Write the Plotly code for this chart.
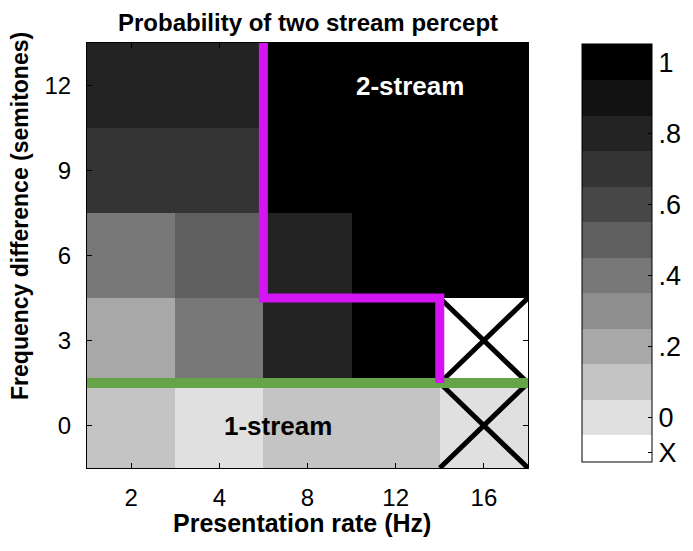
import plotly.graph_objects as go

rates = ['2', '4', '8', '12', '16']          # Hz
semitones = [0, 3, 6, 9, 12]

# probability of two stream percept, one row per semitone step, one column per rate
# None = condition not tested (drawn white, "X" level of the colorbar)
prob = [
    [0.1, 0.0, 0.1, 0.1, 0.0],
    [0.2, 0.4, 0.8, 1.0, None],
    [0.4, 0.5, 0.8, 1.0, 1.0],
    [0.7, 0.7, 1.0, 1.0, 1.0],
    [0.8, 0.8, 1.0, 1.0, 1.0],
]
crossed = [(4, 0), (4, 3)]   # (rate index, semitones) cells with an X over them

x_value = -0.1
level_values = [-0.1, 0.0, 0.1, 0.2, 0.3, 0.4, 0.5, 0.6, 0.7, 0.8, 0.9, 1.0]
level_colors = ['#ffffff', '#e0e0e0', '#c4c4c4', '#a8a8a8', '#8e8e8e', '#787878',
                '#5f5f5f', '#474747', '#343434', '#232323', '#121212', '#000000']
cbar_vals = [-0.1, 0.0, 0.2, 0.4, 0.6, 0.8, 1.0]
cbar_text = ['X', '0', '.2', '.4', '.6', '.8', '1']

# boundaries drawn on the map
two_stream_x = [1.5, 1.5, 3.5, 3.5]
two_stream_y = [13.5, 4.5, 4.5, 1.5]
one_stream_y = 1.5

zmin, zmax = -0.126, 1.052

# stepped colorscale, one band per level
edges = [zmin] + [v + 0.05 for v in level_values[:-1]] + [zmax]
cscale = []
for i, col in enumerate(level_colors):
    lo = (edges[i] - zmin) / (zmax - zmin)
    hi = (edges[i + 1] - zmin) / (zmax - zmin)
    cscale.append([lo, col])
    cscale.append([hi, col])
cscale[0][0] = 0.0
cscale[-1][0] = 1.0

z = [[x_value if v is None else v for v in row] for row in prob]
xs = list(range(len(rates)))
dx = 0.5
dy = (semitones[1] - semitones[0]) / 2

font = 'Liberation Sans, Arial, sans-serif'

fig = go.Figure()
fig.add_trace(go.Heatmap(
    x=xs, y=semitones, z=z,
    zmin=zmin, zmax=zmax, colorscale=cscale,
    hoverinfo='skip',
    colorbar=dict(
        x=1.122, xanchor='left', y=0.014, yanchor='bottom',
        lenmode='pixels', len=418, thickness=70,
        outlinecolor='black', outlinewidth=1,
        tickmode='array', tickvals=cbar_vals, ticktext=cbar_text,
        ticks='inside', ticklen=4, tickcolor='black',
        tickfont=dict(family=font, size=27, color='black'),
        xpad=0, ypad=0,
    ),
))

for ci, st in crossed:
    fig.add_trace(go.Scatter(
        x=[ci - dx, ci + dx, None, ci - dx, ci + dx],
        y=[st - dy, st + dy, None, st + dy, st - dy],
        mode='lines', line=dict(color='black', width=5),
        showlegend=False, hoverinfo='skip',
    ))

fig.add_trace(go.Scatter(
    x=[xs[0] - dx, xs[-1] + dx], y=[one_stream_y, one_stream_y],
    mode='lines', line=dict(color='#65a547', width=10),
    showlegend=False, hoverinfo='skip',
))
fig.add_trace(go.Scatter(
    x=two_stream_x, y=two_stream_y,
    mode='lines', line=dict(color='#d215f2', width=9),
    showlegend=False, hoverinfo='skip',
))

fig.add_annotation(x=3.16, y=12, text='<b>2-stream</b>', showarrow=False,
                   font=dict(family=font, size=26, color='white'))
fig.add_annotation(x=1.66, y=0, text='<b>1-stream</b>', showarrow=False,
                   font=dict(family=font, size=26, color='black'))

# titles
fig.add_annotation(x=0.5, y=1.049, xref='paper', yref='paper', yanchor='middle',
                   text='<b>Probability of two stream percept</b>', showarrow=False,
                   font=dict(family=font, size=24, color='black'))
fig.add_annotation(x=0.488, y=-0.13, xref='paper', yref='paper', yanchor='middle',
                   text='<b>Presentation rate (Hz)</b>', showarrow=False,
                   font=dict(family=font, size=25, color='black'))
fig.add_annotation(x=-0.152, y=0.593, xref='paper', yref='paper', textangle=-90,
                   xanchor='center', yanchor='middle',
                   text='<b>Frequency difference (semitones)</b>', showarrow=False,
                   font=dict(family=font, size=23, color='black'))

axis_style = dict(showline=True, linecolor='black', linewidth=1, mirror='ticks',
                  ticks='inside', ticklen=5, tickcolor='black', showgrid=False,
                  zeroline=False, tickfont=dict(family=font, size=24, color='black'))
fig.update_xaxes(range=[-0.5, 4.5], tickmode='array', tickvals=xs, ticktext=rates,
                 ticklabelstandoff=8, **axis_style)
fig.update_yaxes(range=[-1.5, 13.5], tickmode='array', tickvals=semitones,
                 ticklabelstandoff=10, **axis_style)

# the page body adds an 8px margin, so the figure is 16px smaller than the window
fig.update_layout(
    width=677, height=535,
    margin=dict(l=79, r=157, t=35, b=75, autoexpand=False),
    paper_bgcolor='white', plot_bgcolor='white',
    showlegend=False,
)

fig.write_html("out.html")
